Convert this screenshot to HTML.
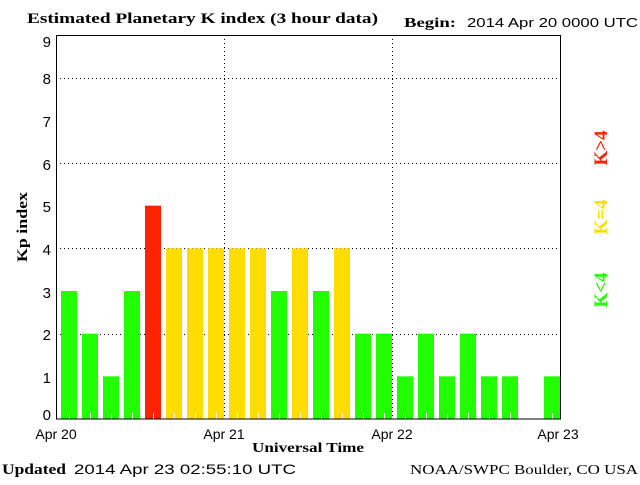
<!DOCTYPE html><html><head><style>body{margin:0;background:#fff}</style></head><body>
<svg width="640" height="480" xmlns="http://www.w3.org/2000/svg" font-family="Liberation Sans, sans-serif">
<rect width="640" height="480" fill="#fff"/>
<text x="27" y="23" font-family="Liberation Serif, serif" font-weight="bold" font-size="15" textLength="351" lengthAdjust="spacingAndGlyphs">Estimated Planetary K index (3 hour data)</text>
<text x="404" y="27" font-family="Liberation Serif, serif" font-weight="bold" font-size="14" textLength="52" lengthAdjust="spacingAndGlyphs">Begin:</text>
<text x="467" y="27" font-size="13" textLength="171" lengthAdjust="spacingAndGlyphs">2014 Apr 20 0000 UTC</text>
<g stroke="#000" stroke-dasharray="1,3" stroke-width="1">
<line x1="56" x2="561" y1="78.5" y2="78.5"/><line x1="56" x2="561" y1="163.5" y2="163.5"/><line x1="56" x2="561" y1="248.5" y2="248.5"/><line x1="56" x2="561" y1="334.5" y2="334.5"/>
<line x1="224.5" x2="224.5" y1="35" y2="419"/><line x1="392.5" x2="392.5" y1="35" y2="419"/>
</g>
<g>
<rect x="61" y="291" width="16" height="128" fill="#22ff00"/>
<rect x="82" y="333.67" width="16" height="85.33" fill="#22ff00"/>
<rect x="103" y="376.33" width="16" height="42.67" fill="#22ff00"/>
<rect x="124" y="291" width="16" height="128" fill="#22ff00"/>
<rect x="145" y="205.67" width="16" height="213.33" fill="#ff2200"/>
<rect x="166" y="248.33" width="16" height="170.67" fill="#ffdd00"/>
<rect x="187" y="248.33" width="16" height="170.67" fill="#ffdd00"/>
<rect x="208" y="248.33" width="16" height="170.67" fill="#ffdd00"/>
<rect x="229" y="248.33" width="16" height="170.67" fill="#ffdd00"/>
<rect x="250" y="248.33" width="16" height="170.67" fill="#ffdd00"/>
<rect x="271" y="291" width="16" height="128" fill="#22ff00"/>
<rect x="292" y="248.33" width="16" height="170.67" fill="#ffdd00"/>
<rect x="313" y="291" width="16" height="128" fill="#22ff00"/>
<rect x="334" y="248.33" width="16" height="170.67" fill="#ffdd00"/>
<rect x="355" y="333.67" width="16" height="85.33" fill="#22ff00"/>
<rect x="376" y="333.67" width="16" height="85.33" fill="#22ff00"/>
<rect x="397" y="376.33" width="16" height="42.67" fill="#22ff00"/>
<rect x="418" y="333.67" width="16" height="85.33" fill="#22ff00"/>
<rect x="439" y="376.33" width="16" height="42.67" fill="#22ff00"/>
<rect x="460" y="333.67" width="16" height="85.33" fill="#22ff00"/>
<rect x="481" y="376.33" width="16" height="42.67" fill="#22ff00"/>
<rect x="502" y="376.33" width="16" height="42.67" fill="#22ff00"/>
<rect x="544" y="376.33" width="16" height="42.67" fill="#22ff00"/>
</g>
<g stroke="#fff" stroke-width="1">
<line x1="69.5" x2="69.5" y1="413" y2="419"/><line x1="90.5" x2="90.5" y1="413" y2="419"/><line x1="111.5" x2="111.5" y1="413" y2="419"/><line x1="132.5" x2="132.5" y1="413" y2="419"/><line x1="153.5" x2="153.5" y1="413" y2="419"/><line x1="174.5" x2="174.5" y1="413" y2="419"/><line x1="195.5" x2="195.5" y1="413" y2="419"/><line x1="216.5" x2="216.5" y1="413" y2="419"/><line x1="237.5" x2="237.5" y1="413" y2="419"/><line x1="258.5" x2="258.5" y1="413" y2="419"/><line x1="279.5" x2="279.5" y1="413" y2="419"/><line x1="300.5" x2="300.5" y1="413" y2="419"/><line x1="321.5" x2="321.5" y1="413" y2="419"/><line x1="342.5" x2="342.5" y1="413" y2="419"/><line x1="363.5" x2="363.5" y1="413" y2="419"/><line x1="384.5" x2="384.5" y1="413" y2="419"/><line x1="405.5" x2="405.5" y1="413" y2="419"/><line x1="426.5" x2="426.5" y1="413" y2="419"/><line x1="447.5" x2="447.5" y1="413" y2="419"/><line x1="468.5" x2="468.5" y1="413" y2="419"/><line x1="489.5" x2="489.5" y1="413" y2="419"/><line x1="510.5" x2="510.5" y1="413" y2="419"/><line x1="552.5" x2="552.5" y1="413" y2="419"/>
</g>
<rect x="56.5" y="35.5" width="504" height="383.5" fill="none" stroke="#000"/>
<g font-size="15" text-anchor="end">
<text x="51" y="47">9</text><text x="51" y="84">8</text><text x="51" y="127">7</text><text x="51" y="170">6</text><text x="51" y="212">5</text><text x="51" y="255">4</text><text x="51" y="298">3</text><text x="51" y="340">2</text><text x="51" y="383">1</text><text x="51" y="420">0</text>
</g>
<g font-size="14" text-anchor="middle">
<text x="56" y="439">Apr 20</text><text x="224" y="439">Apr 21</text><text x="392" y="439">Apr 22</text><text x="558" y="439">Apr 23</text>
</g>
<text x="308" y="452" text-anchor="middle" font-family="Liberation Serif, serif" font-weight="bold" font-size="14" textLength="112" lengthAdjust="spacingAndGlyphs">Universal Time</text>
<text transform="translate(27,227) rotate(-90)" text-anchor="middle" font-family="Liberation Serif, serif" font-weight="bold" font-size="15" textLength="70" lengthAdjust="spacingAndGlyphs">Kp index</text>
<g font-family="Liberation Serif, serif" font-weight="bold" font-size="19" text-anchor="middle">
<text transform="translate(607,148) rotate(-90)" fill="#ff2200">K&gt;4</text>
<text transform="translate(607,217) rotate(-90)" fill="#ffdd00">K=4</text>
<text transform="translate(607,290) rotate(-90)" fill="#22ff00">K&lt;4</text>
</g>
<text x="2" y="474" font-family="Liberation Serif, serif" font-weight="bold" font-size="15" textLength="64" lengthAdjust="spacingAndGlyphs">Updated</text>
<text x="74" y="474" font-size="14" textLength="222" lengthAdjust="spacingAndGlyphs">2014 Apr 23 02:55:10 UTC</text>
<text x="410" y="474" font-family="Liberation Serif, serif" font-size="14" textLength="228" lengthAdjust="spacingAndGlyphs">NOAA/SWPC Boulder, CO USA</text>
</svg></body></html>
